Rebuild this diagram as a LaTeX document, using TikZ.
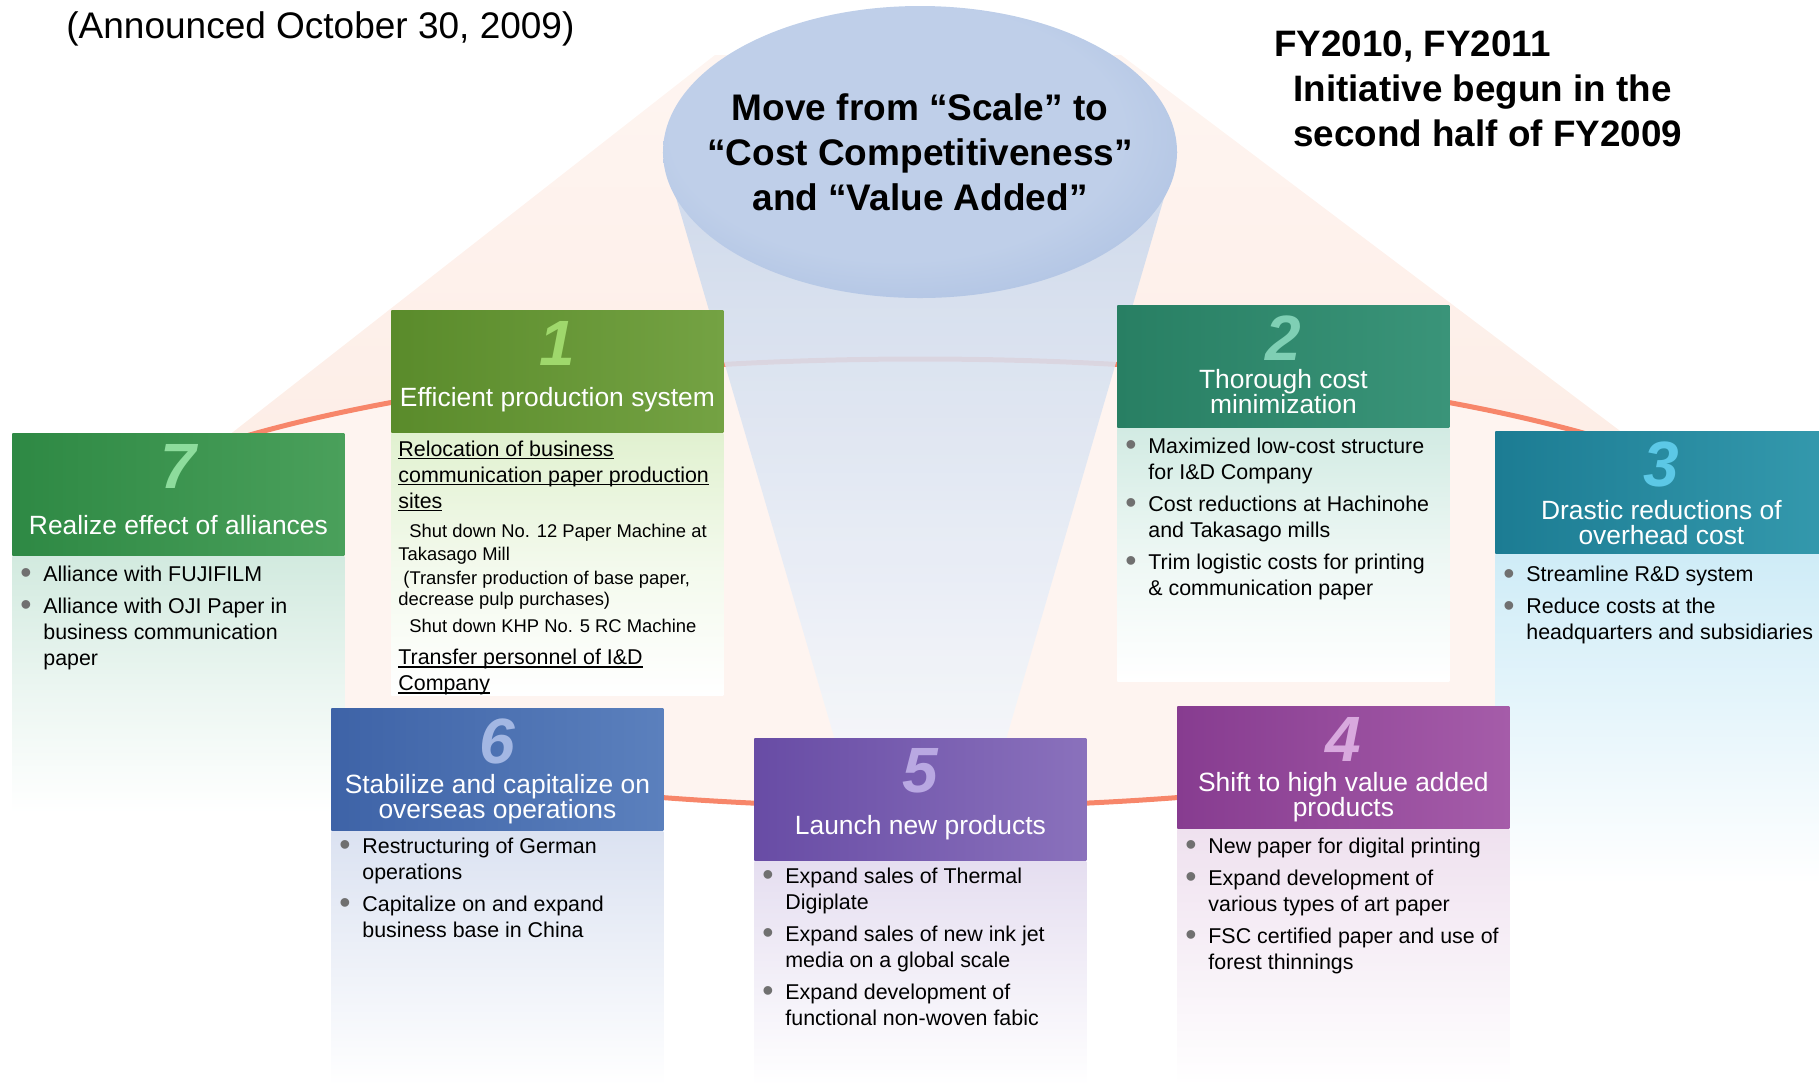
\documentclass[tikz,border=0pt]{standalone}
\usepackage{fontspec}
\setmainfont{Liberation Sans}
\usepackage{tikz}
\usetikzlibrary{shapes,positioning}

\pgfdeclarelayer{bg}
\pgfdeclarelayer{mid}
\pgfsetlayers{bg,mid,main}

\definecolor{peachtop}{HTML}{FEF5F1}
\definecolor{peachbot}{HTML}{FDEBE3}
\definecolor{peachin}{HTML}{FEF4F0}
\definecolor{peachring}{HTML}{FCE3D8}
\definecolor{ringline}{HTML}{F7866A}
\definecolor{conetop}{HTML}{C8D6EB}
\definecolor{conebot}{HTML}{F3F6FB}
\definecolor{goalin}{HTML}{BFCFE9}
\definecolor{goalout}{HTML}{90AAD7}
\definecolor{dotgray}{HTML}{707070}
% header dark/light, number, body top
\definecolor{hA1}{HTML}{5A8B2B}\definecolor{hB1}{HTML}{74A243}\definecolor{num1}{HTML}{9FD86C}\definecolor{bod1}{HTML}{E1F1D0}
\definecolor{hA2}{HTML}{287F63}\definecolor{hB2}{HTML}{3A9479}\definecolor{num2}{HTML}{7FCFB4}\definecolor{bod2}{HTML}{D2EBE3}
\definecolor{hA3}{HTML}{1C7C93}\definecolor{hB3}{HTML}{3499AD}\definecolor{num3}{HTML}{5CC8E6}\definecolor{bod3}{HTML}{CFECF7}
\definecolor{hA4}{HTML}{873C90}\definecolor{hB4}{HTML}{A55CA9}\definecolor{num4}{HTML}{D8A9DE}\definecolor{bod4}{HTML}{EFE1EF}
\definecolor{hA5}{HTML}{684CA5}\definecolor{hB5}{HTML}{8A71BC}\definecolor{num5}{HTML}{B9A8E2}\definecolor{bod5}{HTML}{E5DEF0}
\definecolor{hA6}{HTML}{3E63A7}\definecolor{hB6}{HTML}{5B80BD}\definecolor{num6}{HTML}{A3B7E3}\definecolor{bod6}{HTML}{DBE2F1}
\definecolor{hA7}{HTML}{2E8944}\definecolor{hB7}{HTML}{4AA05B}\definecolor{num7}{HTML}{8DDC9C}\definecolor{bod7}{HTML}{D2EADF}

\pgfdeclareradialshading{goalshade}{\pgfpoint{-4bp}{6bp}}{color(0bp)=(goalin); color(22bp)=(goalin); color(50bp)=(goalout)}
\pgfdeclareradialshading{peachglow}{\pgfpoint{0bp}{4bp}}{color(0bp)=(peachin); color(28bp)=(peachin); color(50bp)=(peachring)}

\tikzstyle{head} = [rectangle, anchor=north west, minimum width=166pt, minimum height=61pt, inner sep=0pt]
\tikzstyle{body} = [rectangle, minimum width=166pt, inner sep=0pt]
\tikzstyle{num} = [inner sep=0pt, font=\fontsize{32}{34}\selectfont\bfseries\itshape]
\tikzstyle{ttl} = [inner sep=0pt, text=white, align=center, font=\fontsize{13.2}{12.6}\selectfont]
\tikzstyle{txt} = [inner sep=0pt, anchor=north west, align=left, font=\fontsize{10.7}{13}\selectfont]
\tikzstyle{ring} = [draw=ringline, line width=2.5pt]

\newcommand{\bul}{\strut\makebox[11.5pt][l]{\raisebox{-1.2pt}{\textcolor{dotgray}{\fontsize{16}{13}\selectfont\textbullet}}}}
\newcommand{\cnt}{\hspace*{11.5pt}}
\newcommand{\sm}{\fontsize{9.2}{11}\selectfont}
\newlength{\undrwd}
\newcommand{\undr}[1]{\settowidth{\undrwd}{#1}\rlap{\rule[-1.6pt]{\undrwd}{0.7pt}}#1}

\begin{document}
\begin{tikzpicture}[x=0.5pt, y=-0.5pt]
    \path[use as bounding box] (0,0) rectangle (1819,1083);
    \clip (0,0) rectangle (1819,1083);

    % Place nodes
    \node[anchor=base west, inner sep=0pt, font=\fontsize{18.5}{22}\selectfont] (date) at (66,38) {(Announced October 30, 2009)};
    \node[anchor=north west, inner sep=0pt, align=left, font=\fontsize{18.4}{22.5}\selectfont\bfseries] (fy) at (1274,25)
        {\strut FY2010, FY2011\\ \hspace*{9.5pt}Initiative begun in the\\ \hspace*{9.5pt}second half of FY2009};

    \node[ellipse, minimum width=257pt, minimum height=146pt, inner sep=0pt, shade, shading=goalshade] (goal) at (920,152) {};
    \node[align=center, inner sep=0pt, font=\fontsize{18.5}{22.5}\selectfont\bfseries] (goaltxt) at (goal.center)
        {Move from “Scale” to\\“Cost Competitiveness”\\and “Value Added”};

    % 1
    \node[head, left color=hA1, right color=hB1] (h1) at (391,310) {};
    \node[body, below=0pt of h1, minimum height=131pt, top color=bod1, bottom color=white, middle color=bod1!40!white] (b1) {};
    \node[num, text=num1] (n1) at ([yshift=-16.5pt]h1.north) {1};
    \node[ttl] (t1) at ([yshift=16.5pt]h1.south) {Efficient production system};
    \node[txt] (x1) at ([xshift=3.5pt,yshift=-2.4pt]h1.south west)
        {\strut\undr{Relocation of business}\\
         \undr{communication paper production}\\
         \undr{sites}\\[1.6pt]
         {\sm\hspace*{5.5pt}Shut down No. 12 Paper Machine at}\\[-1.5pt]
         {\sm Takasago Mill}\\[-1pt]
         {\sm\hspace*{2.5pt}(Transfer production of base paper,}\\[-2.5pt]
         {\sm decrease pulp purchases)}\\[0.5pt]
         {\sm\hspace*{5.5pt}Shut down KHP No. 5 RC Machine}\\[3pt]
         \undr{Transfer personnel of I\&D}\\
         \undr{Company}};

    % 2
    \node[head, left color=hA2, right color=hB2] (h2) at (1117,305) {};
    \node[body, below=0pt of h2, minimum height=126.5pt, top color=bod2, bottom color=white, middle color=bod2!40!white] (b2) {};
    \node[num, text=num2] (n2) at ([yshift=-16.5pt]h2.north) {2};
    \node[ttl] (t2) at ([yshift=18pt]h2.south) {Thorough cost\\minimization};
    \node[txt] (x2) at ([xshift=4pt,yshift=-3.4pt]h2.south west)
        {\bul Maximized low-cost structure\\ \cnt for I\&D Company\\[3pt]
         \bul Cost reductions at Hachinohe\\ \cnt and Takasago mills\\[3pt]
         \bul Trim logistic costs for printing\\ \cnt \& communication paper};

    % 3
    \node[head, left color=hA3, right color=hB3] (h3) at (1495,431) {};
    \node[body, below=0pt of h3, minimum height=165pt, top color=bod3, bottom color=white, middle color=bod3!50!white] (b3) {};
    \node[num, text=num3] (n3) at ([yshift=-16.5pt]h3.north) {3};
    \node[ttl] (t3) at ([yshift=15.5pt]h3.south) {Drastic reductions of\\overhead cost};
    \node[txt] (x3) at ([xshift=4pt,yshift=-4.6pt]h3.south west)
        {\bul Streamline R\&D system\\[3pt]
         \bul Reduce costs at the\\ \cnt headquarters and subsidiaries};

    % 7
    \node[head, left color=hA7, right color=hB7] (h7) at (12,433) {};
    \node[body, below=0pt of h7, minimum height=128.5pt, top color=bod7, bottom color=white, middle color=bod7!45!white] (b7) {};
    \node[num, text=num7] (n7) at ([yshift=-16.5pt]h7.north) {7};
    \node[ttl] (t7) at ([yshift=15.5pt]h7.south) {Realize effect of alliances};
    \node[txt] (x7) at ([xshift=4pt,yshift=-3.4pt]h7.south west)
        {\bul Alliance with FUJIFILM\\[3pt]
         \bul Alliance with OJI Paper in\\ \cnt business communication\\ \cnt paper};

    % 4
    \node[head, left color=hA4, right color=hB4] (h4) at (1177,706) {};
    \node[body, below=0pt of h4, minimum height=128.5pt, top color=bod4, bottom color=white, middle color=bod4!50!white] (b4) {};
    \node[num, text=num4] (n4) at ([yshift=-16.5pt]h4.north) {4};
    \node[ttl] (t4) at ([yshift=16pt]h4.south) {Shift to high value added\\products};
    \node[txt] (x4) at ([xshift=4pt,yshift=-3pt]h4.south west)
        {\bul New paper for digital printing\\[3pt]
         \bul Expand development of\\ \cnt various types of art paper\\[3pt]
         \bul FSC certified paper and use of\\ \cnt forest thinnings};

    % 5
    \node[head, left color=hA5, right color=hB5] (h5) at (754,738) {};
    \node[body, below=0pt of h5, minimum height=112.5pt, top color=bod5, bottom color=white, middle color=bod5!50!white] (b5) {};
    \node[num, text=num5] (n5) at ([yshift=-16.5pt]h5.north) {5};
    \node[ttl] (t5) at ([yshift=16.5pt]h5.south) {Launch new products};
    \node[txt] (x5) at ([xshift=4pt,yshift=-1.8pt]h5.south west)
        {\bul Expand sales of Thermal\\ \cnt Digiplate\\[3pt]
         \bul Expand sales of new ink jet\\ \cnt media on a global scale\\[3pt]
         \bul Expand development of\\ \cnt functional non-woven fabic};

    % 6
    \node[head, left color=hA6, right color=hB6] (h6) at (331,708) {};
    \node[body, below=0pt of h6, minimum height=127.5pt, top color=bod6, bottom color=white, middle color=bod6!50!white] (b6) {};
    \node[num, text=num6] (n6) at ([yshift=-16.5pt]h6.north) {6};
    \node[ttl] (t6) at ([yshift=16pt]h6.south) {Stabilize and capitalize on\\overseas operations};
    \node[txt] (x6) at ([xshift=4pt,yshift=-1.8pt]h6.south west)
        {\bul Restructuring of German\\ \cnt operations\\[3pt]
         \bul Capitalize on and expand\\ \cnt business base in China};

    % peach backdrop and the ring behind the boxes
    \begin{pgfonlayer}{bg}
        \shade[top color=peachtop, bottom color=peachbot] (715,55) -- (1121,55) -- (1822,583) -- (40,583) -- cycle;
        \shade[shading=peachglow] (920,583) ellipse [x radius=446.5pt, y radius=112pt];
        \draw[ring] (920,583) ellipse [x radius=446.5pt, y radius=112pt];
    \end{pgfonlayer}

    % funnel from the ellipse down to box 5
    \begin{pgfonlayer}{mid}
        \shade[top color=conetop, bottom color=conebot, opacity=0.88]
            (goal.west) -- (goal.east) -- ([xshift=43pt]h5.north) -- ([xshift=-43pt]h5.north) -- cycle;
    \end{pgfonlayer}
\end{tikzpicture}
\end{document}
